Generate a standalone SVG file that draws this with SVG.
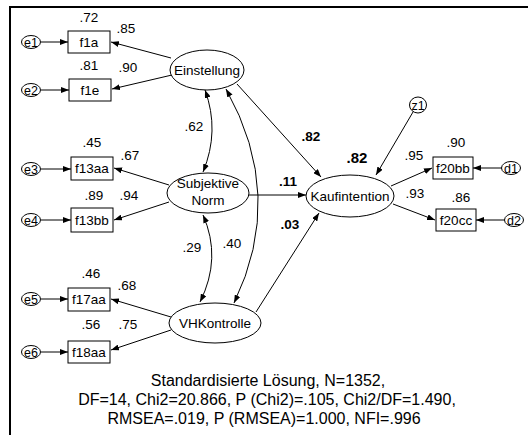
<svg xmlns="http://www.w3.org/2000/svg" width="528" height="435" viewBox="0 0 528 435">
<style>
text{font-family:"Liberation Sans",Arial,sans-serif;fill:#000}
.lbl{font-size:13.5px;text-anchor:middle}
.sm{font-size:12.5px;text-anchor:middle}
.num{font-size:13.5px;text-anchor:middle}
.b{font-size:13.5px;font-weight:bold;text-anchor:middle}
.box{fill:#fff;stroke:#000;stroke-width:1}
.el{fill:#fff;stroke:#000;stroke-width:1}
.ln{fill:none;stroke:#000;stroke-width:1}
</style>
<defs>
<marker id="ah" viewBox="0 0 8 6" refX="8" refY="3" markerWidth="8" markerHeight="6" markerUnits="userSpaceOnUse" orient="auto-start-reverse">
<path d="M0,0 L8,3 L0,6 z" fill="#000"/>
</marker>
</defs>
<rect x="10" y="7" width="530" height="440" fill="#fff" stroke="#000" stroke-width="2"/>
<g id="connectors">
<line class="ln" x1="41" y1="42" x2="68" y2="42" marker-end="url(#ah)"/>
<line class="ln" x1="41" y1="90" x2="69" y2="90" marker-end="url(#ah)"/>
<line class="ln" x1="41" y1="169" x2="71" y2="169" marker-end="url(#ah)"/>
<line class="ln" x1="41" y1="220" x2="71" y2="220" marker-end="url(#ah)"/>
<line class="ln" x1="41" y1="299" x2="68" y2="299" marker-end="url(#ah)"/>
<line class="ln" x1="41" y1="352" x2="68" y2="352" marker-end="url(#ah)"/>
<line class="ln" x1="502" y1="168" x2="473" y2="168" marker-end="url(#ah)"/>
<line class="ln" x1="505" y1="220" x2="476" y2="220" marker-end="url(#ah)"/>
<line class="ln" x1="171" y1="58" x2="111" y2="42" marker-end="url(#ah)"/>
<line class="ln" x1="172" y1="75" x2="112" y2="89" marker-end="url(#ah)"/>
<line class="ln" x1="169" y1="185" x2="114" y2="168" marker-end="url(#ah)"/>
<line class="ln" x1="169" y1="202" x2="114" y2="220" marker-end="url(#ah)"/>
<line class="ln" x1="171" y1="317" x2="111" y2="299" marker-end="url(#ah)"/>
<line class="ln" x1="171" y1="330" x2="111" y2="350" marker-end="url(#ah)"/>
<line class="ln" x1="391" y1="186" x2="432" y2="168" marker-end="url(#ah)"/>
<line class="ln" x1="393" y1="204" x2="435" y2="220" marker-end="url(#ah)"/>
<line class="ln" x1="237" y1="84" x2="321" y2="177" marker-end="url(#ah)"/>
<line class="ln" x1="249" y1="195" x2="306" y2="195" marker-end="url(#ah)"/>
<line class="ln" x1="256" y1="312" x2="319" y2="213" marker-end="url(#ah)"/>
<line class="ln" x1="413" y1="112" x2="376" y2="175" marker-end="url(#ah)"/>
<path class="ln" d="M205,90 Q220,131 203,172" marker-start="url(#ah)" marker-end="url(#ah)"/>
<path class="ln" d="M226,89 Q286,196 234,303" marker-start="url(#ah)" marker-end="url(#ah)"/>
<path class="ln" d="M203,215 Q222,258 200,302" marker-start="url(#ah)" marker-end="url(#ah)"/>
</g>
<g id="e1"><ellipse class="el" cx="31" cy="42" rx="9.5" ry="6.5"/><text class="sm" x="31" y="46.5">e1</text></g>
<g id="e2"><ellipse class="el" cx="31" cy="90" rx="9.5" ry="6.5"/><text class="sm" x="31" y="94.5">e2</text></g>
<g id="e3"><ellipse class="el" cx="31" cy="169" rx="9.5" ry="6.5"/><text class="sm" x="31" y="173.5">e3</text></g>
<g id="e4"><ellipse class="el" cx="31" cy="220" rx="9.5" ry="6.5"/><text class="sm" x="31" y="224.5">e4</text></g>
<g id="e5"><ellipse class="el" cx="31" cy="299" rx="9.5" ry="6.5"/><text class="sm" x="31" y="303.5">e5</text></g>
<g id="e6"><ellipse class="el" cx="31" cy="352" rx="9.5" ry="6.5"/><text class="sm" x="31" y="356.5">e6</text></g>
<g id="d1"><ellipse class="el" cx="511" cy="168" rx="9.5" ry="6.5"/><text class="sm" x="511" y="172.5">d1</text></g>
<g id="d2"><ellipse class="el" cx="514" cy="220" rx="9.5" ry="6.5"/><text class="sm" x="514" y="224.5">d2</text></g>
<g id="z1"><ellipse class="el" cx="418" cy="105" rx="8.5" ry="8"/><text class="sm" x="418" y="109.5">z1</text></g>
<g id="f1a"><rect class="box" x="68" y="31" width="42" height="22"/><text class="lbl" x="89" y="47">f1a</text><text class="num" x="89" y="22">.72</text></g>
<g id="f1e"><rect class="box" x="69" y="79" width="42" height="22"/><text class="lbl" x="90" y="95">f1e</text><text class="num" x="89" y="70">.81</text></g>
<g id="f13aa"><rect class="box" x="71" y="157" width="42" height="23"/><text class="lbl" x="92" y="173">f13aa</text><text class="num" x="92" y="147">.45</text></g>
<g id="f13bb"><rect class="box" x="71" y="208" width="42" height="24"/><text class="lbl" x="92" y="225">f13bb</text><text class="num" x="94" y="200">.89</text></g>
<g id="f17aa"><rect class="box" x="68" y="288" width="42" height="23"/><text class="lbl" x="89" y="304">f17aa</text><text class="num" x="91" y="278">.46</text></g>
<g id="f18aa"><rect class="box" x="68" y="341" width="42" height="22"/><text class="lbl" x="89" y="357">f18aa</text><text class="num" x="91" y="329">.56</text></g>
<g id="f20bb"><rect class="box" x="433" y="157" width="40" height="22"/><text class="lbl" x="453" y="173">f20bb</text><text class="num" x="456" y="147">.90</text></g>
<g id="f20cc"><rect class="box" x="436" y="209" width="40" height="22"/><text class="lbl" x="456" y="225">f20cc</text><text class="num" x="461" y="202">.86</text></g>
<g id="Einstellung"><ellipse class="el" cx="207" cy="70" rx="37" ry="20"/><text class="lbl" x="207" y="75">Einstellung</text></g>
<g id="SubjektiveNorm"><ellipse class="el" cx="208" cy="193" rx="41" ry="20"/><text class="lbl" x="208" y="188">Subjektive</text><text class="lbl" x="208" y="205">Norm</text></g>
<g id="VHKontrolle"><ellipse class="el" cx="215" cy="323" rx="46" ry="20"/><text class="lbl" x="215" y="328">VHKontrolle</text></g>
<g id="Kaufintention"><ellipse class="el" cx="350" cy="196" rx="44" ry="21"/><text class="lbl" x="350" y="201">Kaufintention</text><text class="b" x="357" y="163" style="font-size:15px">.82</text></g>
<g id="labels">
<text class="num" x="126" y="33">.85</text>
<text class="num" x="128" y="72">.90</text>
<text class="num" x="130" y="160">.67</text>
<text class="num" x="129" y="200">.94</text>
<text class="num" x="127" y="290">.68</text>
<text class="num" x="128" y="329">.75</text>
<text class="num" x="194" y="131">.62</text>
<text class="num" x="192" y="252">.29</text>
<text class="num" x="232" y="248">.40</text>
<text class="num" x="414" y="160">.95</text>
<text class="num" x="415" y="198">.93</text>
<text class="b" x="311" y="141">.82</text>
<text class="b" x="288" y="186">.11</text>
<text class="b" x="290" y="229">.03</text>
</g>
<g id="caption" style="font-size:16px;text-anchor:middle">
<text x="268" y="386">Standardisierte Lösung, N=1352,</text>
<text x="267" y="405">DF=14, Chi2=20.866, P (Chi2)=.105, Chi2/DF=1.490,</text>
<text x="264" y="424">RMSEA=.019, P (RMSEA)=1.000, NFI=.996</text>
</g>
</svg>
